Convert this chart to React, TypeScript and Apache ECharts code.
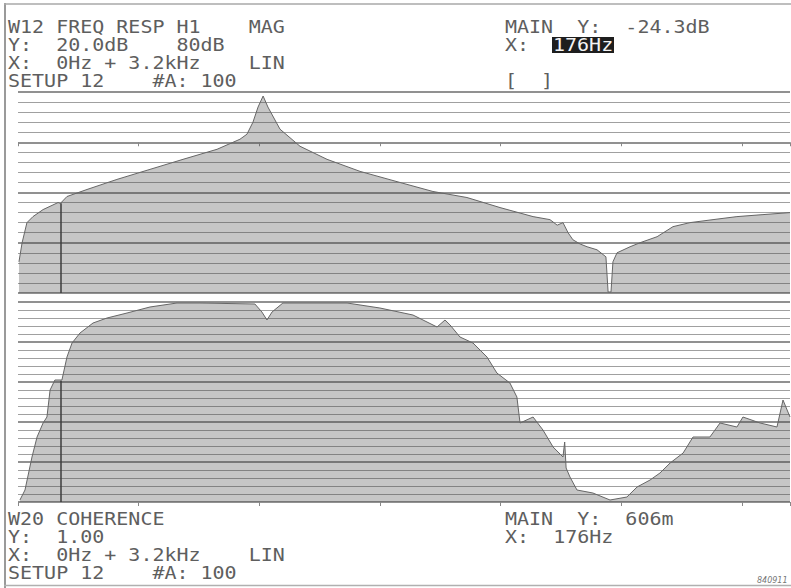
import React, { useEffect, useRef } from "react";
import * as echarts from "echarts";

// Frequency response H1 magnitude (dB) vs frequency (Hz)
const respFreq = [4, 17, 37, 62, 104, 166, 176, 203, 286, 410, 547, 684, 825, 920, 949, 974, 995, 1016, 1036, 1086, 1169, 1281, 1418, 1583, 1720, 1861, 1998, 2135, 2205, 2235, 2259, 2280, 2300, 2330, 2359, 2400, 2437, 2446, 2458, 2466, 2483, 2537, 2578, 2649, 2715, 2785, 2881, 2980, 3088, 3200];
const respMag = [-47.6, -40, -32, -29.6, -26.8, -24.0, -24.3, -21.6, -18.8, -14.8, -10.8, -6.8, -2.8, 1.2, 3.2, 8, 14, 18.4, 14, 5.2, -1.6, -6.8, -11.6, -16, -19.6, -22, -26, -29.6, -30.8, -33, -32, -36, -38.8, -40.5, -41.6, -42.8, -45.6, -59.6, -59.6, -47.6, -44, -41.6, -40, -37.6, -33.6, -32, -30.8, -29.6, -28.8, -28];

// Coherence vs frequency (Hz)
const cohFreq = [8, 29, 58, 79, 104, 120, 133, 153, 182, 203, 224, 257, 311, 369, 452, 547, 659, 754, 982, 1011, 1032, 1053, 1098, 1364, 1500, 1637, 1737, 1770, 1791, 1832, 1886, 1944, 1985, 2039, 2068, 2081, 2135, 2176, 2218, 2259, 2266, 2272, 2288, 2317, 2383, 2454, 2524, 2566, 2620, 2661, 2703, 2757, 2798, 2868, 2910, 2980, 3005, 3076, 3146, 3171, 3200];
const cohVal = [0.01, 0.06, 0.225, 0.325, 0.395, 0.425, 0.56, 0.61, 0.61, 0.725, 0.795, 0.845, 0.895, 0.92, 0.945, 0.975, 0.995, 0.995, 0.99, 0.95, 0.91, 0.95, 0.995, 0.995, 0.97, 0.935, 0.875, 0.91, 0.885, 0.825, 0.795, 0.725, 0.645, 0.595, 0.525, 0.395, 0.425, 0.36, 0.275, 0.225, 0.3, 0.17, 0.125, 0.06, 0.045, 0.01, 0.025, 0.075, 0.11, 0.145, 0.195, 0.245, 0.325, 0.325, 0.395, 0.375, 0.425, 0.395, 0.375, 0.51, 0.425];

const cursorFreq = 176;
const cursorMag = -24.3;
const cursorCoh = 0.606;

const topLeftText = ["W12 FREQ RESP H1    MAG", "Y:  20.0dB    80dB", "X:  0Hz + 3.2kHz    LIN", "SETUP 12    #A: 100"];
const topRightText = ["MAIN  Y:  -24.3dB", "X:", "", "[  ]"];
const cursorFreqText = "176Hz";
const botLeftText = ["W20 COHERENCE", "Y:  1.00", "X:  0Hz + 3.2kHz    LIN", "SETUP 12    #A: 100"];
const botRightText = ["MAIN  Y:  606m", "X:  176Hz"];
const photoId = "840911";

const FONT = '20px "DejaVu Sans Mono", monospace';
const TXT = "#5e5e5e";

function textEl(text: string, x: number, y: number, fill = TXT) {
  return {
    type: "text",
    x,
    y,
    scaleY: 0.88,
    silent: true,
    style: { text, font: FONT, fill, verticalAlign: "middle", align: "left" },
  };
}

export default function App() {
  const ref = useRef<HTMLDivElement>(null);
  useEffect(() => {
    if (!ref.current) return;
    const chart = echarts.init(ref.current, null, { renderer: "svg" });
    const topData = respFreq.map((f, i) => [f, respMag[i]]);
    const botData = cohFreq.map((f, i) => [f, cohVal[i]]);

    const rowsTop = [27, 45, 63, 81];
    const rowsBot = [519, 537, 555, 573];
    const graphics: any[] = [];
    topLeftText.forEach((t, i) => graphics.push(textEl(t, 8, rowsTop[i])));
    topRightText.forEach((t, i) => t && graphics.push(textEl(t, 505, rowsTop[i])));
    graphics.push({ type: "rect", shape: { x: 552, y: 37, width: 62, height: 16 }, style: { fill: "#1e1e1e" }, silent: true });
    graphics.push(textEl(cursorFreqText, 553, rowsTop[1], "#f4f4f4"));
    botLeftText.forEach((t, i) => graphics.push(textEl(t, 8, rowsBot[i])));
    botRightText.forEach((t, i) => graphics.push(textEl(t, 505, rowsBot[i])));
    graphics.push({ type: "text", x: 757, y: 580, silent: true, style: { text: photoId, font: 'italic 8px "DejaVu Sans", sans-serif', fill: "#777", verticalAlign: "middle" } });
    // frame
    graphics.push({ type: "line", silent: true, shape: { x1: 5, y1: 3, x2: 5, y2: 588 }, style: { stroke: "#9a9a9a", lineWidth: 2 } });
    graphics.push({ type: "line", silent: true, shape: { x1: 4, y1: 4, x2: 791, y2: 4 }, style: { stroke: "#a8a8a8", lineWidth: 1.5 } });
    graphics.push({ type: "line", silent: true, shape: { x1: 4, y1: 585.5, x2: 791, y2: 585.5 }, style: { stroke: "#b0b0b0", lineWidth: 1.5 } });

    const yCommon = {
      axisLabel: { show: false },
      axisLine: { show: false },
      axisTick: { show: false },
      splitLine: { show: true, lineStyle: { color: "#6c6c6c", width: 1.6 } },
      minorTick: { show: false, splitNumber: 5 },
      minorSplitLine: { show: true, lineStyle: { color: "#a0a0a0", width: 1 } },
    };
    const xCommon = {
      type: "value",
      min: 0,
      max: 3200,
      interval: 500,
      axisLabel: { show: false },
      axisLine: { show: false },
      axisTick: { show: true, length: 4, inside: false, lineStyle: { color: "#888", width: 1 } },
      splitLine: { show: false },
    };
    const areaSeries = (data: any[], xi: number, x0: number[], y0: number[]) => ({
      type: "line",
      xAxisIndex: xi,
      yAxisIndex: xi,
      data,
      showSymbol: false,
      symbol: "none",
      lineStyle: { color: "#666", width: 1 },
      areaStyle: { color: "rgba(60,60,60,0.42)", origin: "start" },
      markLine: {
        silent: true,
        symbol: "none",
        label: { show: false },
        lineStyle: { color: "#3c3c3c", width: 1.5, type: "solid" },
        data: [[{ coord: x0 }, { coord: y0 }]],
      },
    });

    chart.setOption({
      animation: false,
      backgroundColor: "#ffffff",
      graphic: graphics,
      grid: [
        { left: 18, top: 92, width: 772, height: 201 },
        { left: 18, top: 302, width: 772, height: 200 },
      ],
      xAxis: [
        { ...xCommon, gridIndex: 0 },
        { ...xCommon, gridIndex: 1 },
      ],
      yAxis: [
        { type: "value", gridIndex: 0, min: -60, max: 20, interval: 20, ...yCommon },
        { type: "value", gridIndex: 1, min: 0, max: 1, interval: 0.2, ...yCommon },
      ],
      series: [
        areaSeries(topData, 0, [cursorFreq, cursorMag], [cursorFreq, -60]),
        areaSeries(botData, 1, [cursorFreq, cursorCoh], [cursorFreq, 0]),
      ],
    });
    return () => chart.dispose();
  }, []);
  return (
    <div
      ref={ref}
      style={{ position: "fixed", left: 0, top: 0, width: 791, height: 588, background: "#fff" }}
    />
  );
}
